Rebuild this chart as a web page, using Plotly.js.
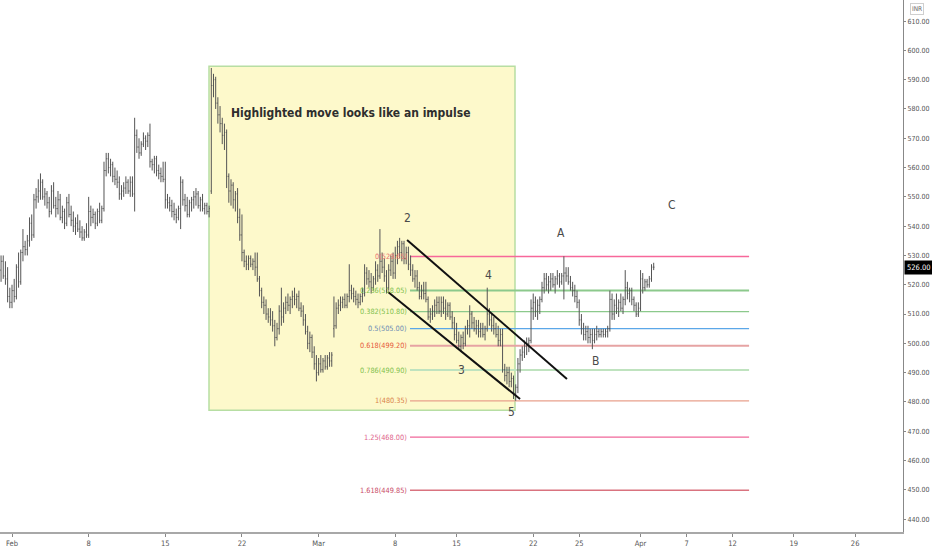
<!DOCTYPE html>
<html>
<head>
<meta charset="utf-8">
<script src="https://cdn.plot.ly/plotly-3.0.1.min.js"></script>
<style>html,body{margin:0;padding:0;background:#fff;}#chart{width:932px;height:550px;}</style>
</head>
<body>
<div id="chart"></div>
<script>
// NSE trading sessions (Jan 29 – Apr 30, 2021)
const sessions = ['2021-01-29','2021-02-01','2021-02-02','2021-02-03','2021-02-04','2021-02-05','2021-02-08','2021-02-09','2021-02-10','2021-02-11','2021-02-12','2021-02-15','2021-02-16','2021-02-17','2021-02-18','2021-02-19','2021-02-22','2021-02-23','2021-02-24','2021-02-25','2021-02-26','2021-03-01','2021-03-02','2021-03-03','2021-03-04','2021-03-05','2021-03-08','2021-03-09','2021-03-10','2021-03-12','2021-03-15','2021-03-16','2021-03-17','2021-03-18','2021-03-19','2021-03-22','2021-03-23','2021-03-24','2021-03-25','2021-03-26','2021-03-30','2021-03-31','2021-04-01','2021-04-05','2021-04-06','2021-04-07','2021-04-08','2021-04-09','2021-04-12','2021-04-13','2021-04-15','2021-04-16','2021-04-19','2021-04-20','2021-04-22','2021-04-23','2021-04-26','2021-04-27','2021-04-28','2021-04-29','2021-04-30'];
// hourly bars per session
const hourSlots = ['09:15','10:15','11:15','12:15','13:15','14:15','15:15'];
const dataDays = sessions.slice(0, 43); // Jan 29 .. Apr 1

const openP = [
528,527,525,528,523,522,516,
514,518,516,526,521,531,533,
532,535,541,537,549,550,552,
555,550,551,548,545,552,547,
546,549,543,545,541,548,544,
542,540,541,539,538,536,538,
537,545,543,544,541,545,542,
546,559,563,560,561,557,556,
555,551,552,553,555,552,555,
551,571,567,565,568,570,569,
571,562,561,563,559,558,557,
556,549,548,547,545,544,543,
546,555,549,547,544,548,549,
550,551,547,549,546,547,545,
552,588,590,582,578,575,571,
572,557,552,554,549,551,543,
537,531,528,527,529,527,528,
526,522,518,514,513,510,509,
508,506,502,505,511,509,512,
514,513,515,516,515,516,512,
511,508,504,500,502,497,493,
490,493,491,494,492,495,494,
505,506,512,513,514,515,513,
516,518,517,516,515,514,516,
517,524,522,521,519,522,525,
523,528,526,523,519,525,528,
524,530,533,531,534,529,531,
527,525,522,523,519,516,518,
517,515,509,510,511,513,514,
511,514,512,510,513,509,507,
503,501,499,502,500,505,506,
510,507,505,506,504,505,503,
505,510,508,506,505,503,501,
503,491,489,490,487,488,483,
485,493,496,497,499,500,501,
512,514,511,513,515,519,522,
520,521,522,520,522,523,521,
523,524,523,521,519,518,516,
514,508,505,503,504,502,503,
501,503,504,503,504,503,504,
505,515,510,513,512,514,512,
515,519,517,518,515,513,510,
512,522,519,521,520,522,526
];
const highP = [
531,530,530,530,528,526,519,
520,522,527,531,532,539,535,
537,543,544,551,553,556,558,
556,553,552,550,554,555,550,
552,551,547,546,550,551,547,
545,543,544,542,540,539,541,
550,547,546,545,546,548,547,
562,565,565,563,562,560,559,
557,554,555,557,556,557,557,
577,573,570,569,572,571,572,
575,563,564,564,561,560,562,
562,551,550,549,548,546,547,
557,556,551,550,549,550,552,
553,552,550,551,548,548,547,
594,592,591,584,581,577,575,
573,558,556,555,552,553,546,
544,532,530,530,530,529,531,
531,523,519,516,515,512,512,
511,508,507,513,519,514,516,
517,516,518,519,517,518,514,
513,510,506,504,503,499,496,
495,496,495,496,496,497,497,
516,514,515,516,516,517,517,
527,520,519,518,517,517,519,
527,526,525,524,523,528,527,
539,531,529,525,527,530,531,
533,535,536,535,535,533,533,
530,527,525,525,521,520,521,
521,516,512,513,515,516,516,
516,516,515,514,514,511,509,
507,504,503,504,506,508,513,
511,509,508,508,507,507,506,
519,512,510,509,507,506,505,
505,493,492,492,490,489,486,
495,498,499,501,502,502,515,
517,516,515,516,521,524,524,
523,524,524,523,525,524,524,
529.7,526,526,523,521,520,518,
515,510,507,506,506,505,505,
505,506,505,505,505,505,506,
518,517,515,517,515,517,516,
525,521,519,519,516,514,514,
525,524,522,522,523,527,527.5
];
const lowP = [
524,523,521,522,520,514,512,
512,514,515,519,520,528,530,
530,533,535,536,546,548,549,
549,547,546,543,544,546,543,
544,542,541,539,540,543,540,
538,537,538,536,535,535,536,
536,540,541,539,540,541,541,
545,557,558,557,555,554,553,
549,549,550,551,551,550,550,
545,565,563,564,567,566,567,
560,559,558,557,556,555,555,
546,546,545,543,542,541,542,
539,547,545,543,543,545,546,
547,546,545,545,544,544,543,
551,584,580,575,572,568,566,
553,548,547,546,545,541,535,
528,526,525,525,526,525,523,
521,516,512,510,508,507,506,
504,499,501,503,506,507,510,
511,510,512,513,512,511,509,
506,503,498,497,495,491,487,
489,490,490,491,491,492,492,
502,505,510,511,512,512,512,
514,515,514,513,512,513,514,
516,520,519,517,518,520,521,
522,524,521,517,518,523,522,
522,527,529,528,527,527,525,
523,521,519,518,515,515,515,
514,508,507,508,509,510,510,
509,510,508,509,508,505,501,
500,498,497,498,499,503,502,
505,504,503,502,502,502,501,
504,506,504,503,502,499,499,
490,487,486,485,485,481,480.4,
483,490,494,495,496,497,500,
508,509,508,510,514,517,518,
517,518,519,517,520,519,520,
515,521,520,518,516,514,512,
506,503,501,501,500,500,498,
500,501,502,502,502,502,502,
504,508,508,510,509,511,510,
513,515,514,513,511,509,509,
511,517,518,519,519,521,525
];
const closeP = [
527,525,528,523,522,516,514,
518,516,526,521,531,533,532,
535,541,537,549,550,552,555,
550,551,548,545,552,547,546,
549,543,545,541,548,544,542,
540,541,539,538,536,538,537,
545,543,544,541,545,542,546,
559,563,560,561,557,556,555,
551,552,553,555,552,555,551,
571,567,565,568,570,569,571,
562,561,563,559,558,557,556,
549,548,547,545,544,543,546,
555,549,547,544,548,549,550,
551,547,549,546,547,545,546,
588,590,582,578,575,571,572,
557,552,554,549,551,543,537,
531,528,527,529,527,528,526,
522,518,514,513,510,509,508,
506,502,505,511,509,512,514,
513,515,516,515,516,512,511,
508,504,500,502,497,493,490,
493,491,494,492,495,494,496,
506,512,513,514,515,513,516,
518,517,516,515,514,516,517,
524,522,521,519,522,525,523,
528,526,523,519,525,528,524,
530,533,531,534,529,531,527,
525,522,523,519,516,518,517,
515,509,510,511,513,514,511,
514,512,510,513,509,507,503,
501,499,502,500,505,506,510,
507,505,506,504,505,503,505,
510,508,506,505,503,501,503,
491,489,490,487,488,483,485,
493,496,497,499,500,501,512,
514,511,513,515,519,522,520,
521,522,520,522,523,521,523,
524,523,521,519,518,516,514,
508,505,503,504,502,503,501,
503,504,503,504,503,504,505,
515,510,513,512,514,512,515,
519,517,518,515,513,510,512,
522,519,521,520,522,526,526
];

// x-axis labels
const tickDates = ['2021-02-01','2021-02-08','2021-02-15','2021-02-22','2021-03-01','2021-03-08','2021-03-15','2021-03-22','2021-03-25','2021-04-01','2021-04-07','2021-04-12','2021-04-19','2021-04-26'];
const tickText  = ['Feb','8','15','22','Mar','8','15','22','25','Apr','7','12','19','26'];

// Fibonacci retracement (drawn from the Mar 8 high to the Mar 18 low)
const fibRatios = ['0','0.236','0.382','0.5','0.618','0.786','1','1.25','1.618'];
const fibPrices = [529.65, 518.05, 510.80, 505.00, 499.20, 490.90, 480.35, 468.00, 449.85];
const fibLineColors = ['#f7689a','#8cc98c','#8cc98c','#5ba7e8','#e6a3a3','#bfe3bf','#e8a08c','#f0679a','#d9737f'];
const fibLineWidths = [1.3,2,1.3,1.3,2,2,1.3,1.3,1.3];
const fibTextColors = ['#e8706e','#7fbf4d','#7fbf4d','#6d8cb3','#e5573a','#7fbf4d','#d9824a','#e0638a','#c94a66'];

// drawings: [session date, fraction of session, price]
const impulseBox = [['2021-02-17',0.85,594.6],['2021-03-18',0.81,477.2]];
const channelUpper = [['2021-03-08',0.77,535.3],['2021-03-24',0.20,487.8]];
const channelLower = [['2021-03-05',0.53,517.5],['2021-03-19',0.14,481.0]];
const fibSpan = [['2021-03-08',0.96],['2021-04-13',0.08]];
const waveLabels = ['2','3','4','5','A','B','C'];
const waveAt = [['2021-03-08',0.77,542.8],['2021-03-15',0.35,490.9],['2021-03-17',0.05,523.3],['2021-03-18',0.60,476.5],['2021-03-23',0.81,537.6],['2021-03-26',0.03,494.0],['2021-04-06',0.05,547.2]];
const noteText = 'Highlighted move looks like an impulse';
const noteAt = ['2021-03-03',0.05,578.6];
const lastPrice = 526.00;

const at = (d, f) => sessions.indexOf(d) + f;

// bar positions on the trading-time axis
const xBars = [];
dataDays.forEach(d => hourSlots.forEach((h, k) => xBars.push(sessions.indexOf(d) + k / hourSlots.length)));

const barColor = '#555555';
const trace = {
  type: 'ohlc',
  x: xBars, open: openP, high: highP, low: lowP, close: closeP,
  increasing: {line: {color: barColor, width: 1}},
  decreasing: {line: {color: barColor, width: 1}},
  tickwidth: 0.35,
  hoverinfo: 'skip',
  showlegend: false
};

const narrow = 'DejaVu Sans Condensed, Liberation Sans Narrow, Roboto Condensed, Roboto, sans-serif';

const shapes = [];
shapes.push({type:'rect', layer:'below', xref:'x', yref:'y',
  x0: at(impulseBox[0][0], impulseBox[0][1]), y0: impulseBox[0][2],
  x1: at(impulseBox[1][0], impulseBox[1][1]), y1: impulseBox[1][2],
  fillcolor:'#fdf9cb', line:{color:'#b7dea3', width:1.5}});
fibPrices.forEach((p, i) => shapes.push({type:'line', layer:'below', xref:'x', yref:'y',
  x0: at(fibSpan[0][0], fibSpan[0][1]), x1: at(fibSpan[1][0], fibSpan[1][1]), y0: p, y1: p,
  line:{color: fibLineColors[i], width: fibLineWidths[i]}}));
[channelUpper, channelLower].forEach(c => shapes.push({type:'line', xref:'x', yref:'y',
  x0: at(c[0][0], c[0][1]), y0: c[0][2], x1: at(c[1][0], c[1][1]), y1: c[1][2],
  line:{color:'#111', width:2}}));

const annotations = [];
fibPrices.forEach((p, i) => annotations.push({xref:'x', yref:'y',
  x: at(fibSpan[0][0], fibSpan[0][1]) - 0.08, y: p, xanchor:'right', yanchor:'middle',
  text: fibRatios[i] + '(' + p.toFixed(2) + ')', showarrow:false,
  font:{family: narrow, size: 7.3, color: fibTextColors[i]}}));
waveLabels.forEach((t, i) => annotations.push({xref:'x', yref:'y',
  x: at(waveAt[i][0], waveAt[i][1]), y: waveAt[i][2], text: t, showarrow:false,
  font:{family: narrow, size: 12, color:'#4a4a4a'}}));
annotations.push({xref:'x', yref:'y', x: at(noteAt[0], noteAt[1]), y: noteAt[2],
  text: noteText, showarrow:false, font:{family: narrow, size: 12, weight: 'bold', color:'#2e2e2e'}});
annotations.push({xref:'paper', yref:'y', x: 1, xanchor:'left', y: lastPrice, yanchor:'middle',
  xshift: 1, text: lastPrice.toFixed(2), showarrow:false, bgcolor:'#000', borderpad: 2,
  font:{family: narrow, size: 7.5, color:'#fff'}});
annotations.push({xref:'paper', yref:'paper', x: 1, xanchor:'left', xshift: 7, y: 0.983, yanchor:'middle',
  text:'INR', showarrow:false, bordercolor:'#cfcfcf', borderwidth:1, borderpad:1,
  font:{family: narrow, size: 6.5, color:'#666'}});

const layout = {
  width: 932, height: 550,
  margin: {l: 0, r: 29, t: 0, b: 18},
  paper_bgcolor: '#fff', plot_bgcolor: '#fff',
  showlegend: false,
  xaxis: {
    type:'linear', range:[0.217, 59.12],
    tickvals: tickDates.map(d => sessions.indexOf(d)), ticktext: tickText,
    ticks:'outside', ticklen: 3, tickcolor:'#888',
    tickfont:{family: narrow, size: 7.5, color:'#555'},
    showline: true, linecolor:'#a8a8a8', linewidth: 2, mirror: false,
    showgrid:false, zeroline:false, rangeslider:{visible:false}, fixedrange:true
  },
  yaxis: {
    side:'right', range:[435.6, 617.2], tick0: 0, dtick: 10, tickformat:'.2f',
    ticks:'outside', ticklen: 2, tickcolor:'#888',
    tickfont:{family: narrow, size: 7, color:'#555'},
    showline: true, linecolor:'#888', linewidth: 1,
    showgrid:false, zeroline:false, fixedrange:true
  },
  shapes: shapes,
  annotations: annotations
};

Plotly.newPlot('chart', [trace], layout, {displayModeBar:false, staticPlot:true});
</script>
</body>
</html>
